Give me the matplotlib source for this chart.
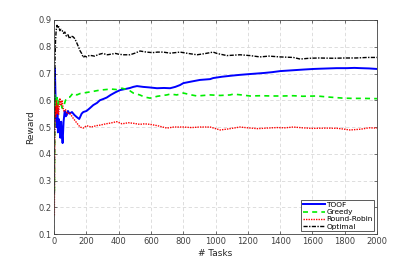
import numpy as np
import matplotlib.pyplot as plt

# values
toof_t = [1, 2, 4, 8, 12, 16, 20, 23, 28, 33, 38, 43, 47, 52, 58, 65, 72, 78, 85, 95, 110, 125, 140, 155, 170, 180,
          200, 220, 242, 265, 283, 305, 325, 350, 380, 408, 440, 470, 490, 513, 551, 590, 637, 680, 718, 750, 780, 800,
          850, 903, 966, 985, 1040, 1100, 1151, 1213, 1257, 1300, 1350, 1400, 1450, 1500, 1550, 1606, 1650, 1700,
          1750, 1814, 1860, 1900, 1950, 2000]
toof_r = [0.52, 0.60, 0.72, 0.62, 0.55, 0.50, 0.57, 0.48, 0.53, 0.51, 0.46, 0.52, 0.48, 0.44, 0.52, 0.56, 0.54, 0.545,
          0.56, 0.55, 0.556, 0.545, 0.537, 0.53, 0.55, 0.556, 0.56, 0.57, 0.582, 0.59, 0.60, 0.605, 0.61, 0.62, 0.63,
          0.638, 0.642, 0.646, 0.65, 0.653, 0.65, 0.648, 0.645, 0.646, 0.645, 0.65, 0.657, 0.664, 0.67, 0.676,
          0.679, 0.683, 0.688, 0.692, 0.695, 0.698, 0.70, 0.702, 0.705, 0.709, 0.711, 0.713, 0.715, 0.717, 0.718,
          0.719, 0.72, 0.72, 0.721, 0.72, 0.719, 0.717]

greedy_t = [1, 2, 4, 7, 10, 14, 18, 23, 30, 40, 50, 60, 70, 85, 97, 117, 140, 160, 180, 210, 240, 283, 320, 350, 387,
            420, 450, 470, 490, 530, 560, 594, 640, 698, 718, 760, 800, 850, 885, 966, 1030, 1090, 1110, 1160, 1213,
            1280, 1350, 1420, 1480, 1540, 1627, 1700, 1790, 1850, 1920, 2000]
greedy_r = [0.26, 0.40, 0.62, 0.55, 0.60, 0.58, 0.61, 0.57, 0.60, 0.59, 0.57, 0.58, 0.60, 0.612, 0.612, 0.627, 0.62,
            0.625, 0.627, 0.63, 0.633, 0.638, 0.64, 0.642, 0.64, 0.645, 0.64, 0.635, 0.627, 0.62, 0.612, 0.608,
            0.615, 0.62, 0.623, 0.62, 0.627, 0.62, 0.616, 0.62, 0.618, 0.62, 0.623, 0.62, 0.616, 0.617, 0.616,
            0.616, 0.617, 0.615, 0.616, 0.612, 0.608, 0.607, 0.607, 0.606]

rr_t = [1, 2, 4, 7, 10, 14, 18, 22, 27, 35, 42, 48, 54, 60, 70, 80, 97, 115, 140, 160, 180, 200, 230, 260, 283, 320,
        350, 387, 420, 460, 490, 530, 560, 594, 640, 698, 740, 800, 850, 900, 966, 1028, 1080, 1151, 1200, 1260,
        1317, 1380, 1430, 1482, 1540, 1600, 1689, 1760, 1833, 1900, 1950, 2000]
rr_r = [0.17, 0.35, 0.50, 0.58, 0.54, 0.60, 0.55, 0.58, 0.545, 0.608, 0.58, 0.60, 0.575, 0.56, 0.565, 0.55, 0.552,
        0.535, 0.515, 0.50, 0.496, 0.505, 0.50, 0.505, 0.507, 0.512, 0.515, 0.52, 0.512, 0.516, 0.514, 0.51,
        0.512, 0.51, 0.505, 0.496, 0.50, 0.50, 0.498, 0.50, 0.50, 0.489, 0.493, 0.50, 0.497, 0.494, 0.496, 0.498,
        0.497, 0.50, 0.497, 0.495, 0.496, 0.495, 0.489, 0.492, 0.497, 0.496]

opt_t = [1, 2, 3, 5, 8, 12, 17, 22, 28, 35, 42, 50, 58, 66, 75, 85, 95, 105, 117, 128, 140, 150, 160, 170, 180, 190,
         200, 220, 250, 280, 300, 330, 350, 380, 400, 430, 470, 500, 532, 572, 610, 640, 675, 720, 780, 830, 885,
         930, 985, 1008, 1070, 1151, 1213, 1275, 1330, 1400, 1482, 1524, 1580, 1640, 1730, 1800, 1870, 1940, 2000]
opt_r = [0.25, 0.50, 0.65, 0.75, 0.82, 0.86, 0.88, 0.87, 0.875, 0.86, 0.865, 0.86, 0.85, 0.855, 0.84, 0.845, 0.83,
         0.84, 0.837, 0.83, 0.814, 0.80, 0.785, 0.775, 0.76, 0.765, 0.762, 0.768, 0.765, 0.772, 0.775, 0.77,
         0.772, 0.775, 0.772, 0.77, 0.77, 0.776, 0.784, 0.78, 0.778, 0.78, 0.78, 0.776, 0.78, 0.775, 0.77, 0.774,
         0.78, 0.775, 0.767, 0.77, 0.767, 0.762, 0.765, 0.762, 0.76, 0.754, 0.757, 0.758, 0.757, 0.758, 0.758,
         0.76, 0.76]

fig = plt.figure(figsize=(4.17, 2.63), dpi=100)
ax = fig.add_axes([0.130, 0.110, 0.774, 0.814])

ax.plot(toof_t, toof_r, color='#0000ff', lw=1.4, ls='-', label='TOOF')
ax.plot(greedy_t, greedy_r, color='#00ee00', lw=1.2, ls=(0, (3, 2.5)), label='Greedy')
ax.plot(rr_t, rr_r, color='#ff0000', lw=1.0, ls=(0, (1, 0.8)), label='Round-Robin')
ax.plot(opt_t, opt_r, color='black', lw=1.0, ls=(0, (3, 1, 1, 1)), label='Optimal')

ax.set_xlim(0, 2000)
ax.set_ylim(0.1, 0.9)
ax.set_xticks(np.arange(0, 2001, 200))
ax.set_yticks(np.arange(0.1, 0.91, 0.1))
ax.set_yticklabels(['0.1', '0.2', '0.3', '0.4', '0.5', '0.6', '0.7', '0.8', '0.9'])
ax.grid(True, ls=(0, (4, 3)), color='#d8d8d8', lw=0.6)
ax.tick_params(direction='in', length=2.5, width=0.5, labelsize=6, colors='#404040',
               top=True, right=True, pad=2)
for s in ax.spines.values():
    s.set_color('#404040')
    s.set_linewidth(0.6)

ax.set_xlabel('# Tasks', fontsize=6.5, color='#262626', labelpad=2)
ax.set_ylabel('Reward', fontsize=6.5, color='#262626', labelpad=2)

leg = ax.legend(loc='lower right', prop={'size': 5.3}, handlelength=3.0, handletextpad=0.2,
                labelspacing=0.15, borderpad=0.25, borderaxespad=0.35, fancybox=False, framealpha=1)
leg.get_frame().set_edgecolor('#404040')
leg.get_frame().set_linewidth(0.6)

fig.savefig('out.png', dpi=100)
